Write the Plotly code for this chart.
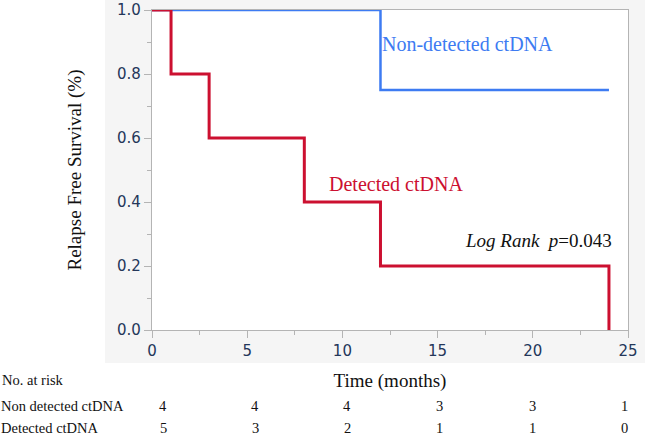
import plotly.graph_objects as go

# Kaplan-Meier step data
nd_time = [0, 12, 12, 24]
nd_surv = [1.0, 1.0, 0.75, 0.75]
det_time = [0, 1, 1, 3, 3, 8, 8, 12, 12, 24, 24]
det_surv = [1.0, 1.0, 0.8, 0.8, 0.6, 0.6, 0.4, 0.4, 0.2, 0.2, 0.0]

risk_groups = ["Non detected ctDNA", "Detected ctDNA"]
risk_nd = [4, 4, 4, 3, 3, 1]
risk_det = [5, 3, 2, 1, 1, 0]

x_ticks = [0, 5, 10, 15, 20, 25]
y_ticks = [0.0, 0.2, 0.4, 0.6, 0.8, 1.0]

BLUE = "#3d7bf2"
RED = "#cc1030"
SERIF = "Liberation Serif, Times New Roman, serif"
SANS = "DejaVu Sans, Verdana, sans-serif"

W, H = 645, 437
L, R, T, B = 152, 17, 10, 107
pw, ph = W - L - R, H - T - B


def px_x(p):
    return (p - L) / pw


def px_y(p):
    return (H - B - p) / ph


fig = go.Figure()
fig.add_trace(go.Scatter(x=nd_time, y=nd_surv, mode="lines",
                         line=dict(color=BLUE, width=2.5, shape="linear"),
                         showlegend=False, hoverinfo="skip"))
fig.add_trace(go.Scatter(x=det_time, y=det_surv, mode="lines",
                         line=dict(color=RED, width=3, shape="linear"),
                         showlegend=False, hoverinfo="skip"))

# light grey panel behind the plot
fig.add_shape(type="rect", xref="paper", yref="paper",
              x0=px_x(105), x1=px_x(645), y0=px_y(363), y1=px_y(0),
              fillcolor="#f5f5f5", line=dict(width=0), layer="below")
fig.add_shape(type="rect", xref="paper", yref="paper",
              x0=0, x1=1, y0=0, y1=1,
              fillcolor="white", line=dict(width=0), layer="below")

annots = [
    dict(x=12.0, y=0.893, xref="x", yref="y", text="Non-detected ctDNA",
         font=dict(family=SERIF, size=20, color=BLUE), xanchor="left", yanchor="middle",
         showarrow=False),
    dict(x=9.2, y=0.455, xref="x", yref="y", text="Detected ctDNA",
         font=dict(family=SERIF, size=20, color=RED), xanchor="left", yanchor="middle",
         showarrow=False),
    dict(x=24.25, y=0.28, xref="x", yref="y", text="<i>Log Rank  p</i>=0.043",
         font=dict(family=SERIF, size=19, color="#111111"), xanchor="right", yanchor="middle",
         showarrow=False),
    dict(x=px_x(0), y=px_y(380), xref="paper", yref="paper", text="No. at risk",
         font=dict(family=SERIF, size=14.5, color="#111111"), xanchor="left", yanchor="middle",
         showarrow=False),
]
row_y = [px_y(406), px_y(428)]
num_px = [163, 255, 347, 439, 532, 624]
for gi, (name, vals) in enumerate(zip(risk_groups, [risk_nd, risk_det])):
    annots.append(dict(x=px_x(0), y=row_y[gi], xref="paper", yref="paper", text=name,
                       font=dict(family=SERIF, size=14.5, color="#111111"),
                       xanchor="left", yanchor="middle", showarrow=False, borderpad=0))
    for v, p in zip(vals, num_px):
        annots.append(dict(x=px_x(p), y=row_y[gi], xref="paper", yref="paper", text=str(v),
                           font=dict(family=SERIF, size=14.5, color="#111111"),
                           xanchor="center", yanchor="middle", showarrow=False, borderpad=0))

fig.update_layout(
    width=W, height=H,
    margin=dict(l=L, r=R, t=T, b=B, autoexpand=False),
    paper_bgcolor="white", plot_bgcolor="rgba(0,0,0,0)",
    annotations=annots,
    xaxis=dict(range=[0, 25], tickvals=x_ticks, ticktext=[str(v) for v in x_ticks],
               automargin=False,
               showgrid=False, zeroline=False, showline=True, mirror=True,
               linecolor="#b4b4b4", linewidth=1.3, ticks="outside", ticklen=7,
               tickcolor="#b4b4b4", tickfont=dict(family=SANS, size=15, color="#24375a"),
               minor=dict(tickvals=[2.5, 7.5, 12.5, 17.5, 22.5], ticks="outside",
                          ticklen=4, tickcolor="#b4b4b4", showgrid=False),
               title=dict(text="Time (months)", font=dict(family=SERIF, size=19, color="#111111"),
                          standoff=14)),
    yaxis=dict(range=[0, 1], tickvals=y_ticks, ticktext=[f"{v:.1f}" for v in y_ticks],
               automargin=False,
               showgrid=False, zeroline=False, showline=True, mirror=True,
               linecolor="#b4b4b4", linewidth=1.3, ticks="outside", ticklen=7,
               tickcolor="#b4b4b4", tickfont=dict(family=SANS, size=15, color="#24375a"),
               minor=dict(tickvals=[0.1, 0.3, 0.5, 0.7, 0.9], ticks="outside",
                          ticklen=4, tickcolor="#b4b4b4", showgrid=False),
               title=dict(text="Relapse Free Survival (%)",
                          font=dict(family=SERIF, size=19, color="#111111"), standoff=30)),
)

fig.write_html("out.html", config={"displayModeBar": False},
               post_script="document.body.style.margin='0';document.body.style.overflow='hidden';")
